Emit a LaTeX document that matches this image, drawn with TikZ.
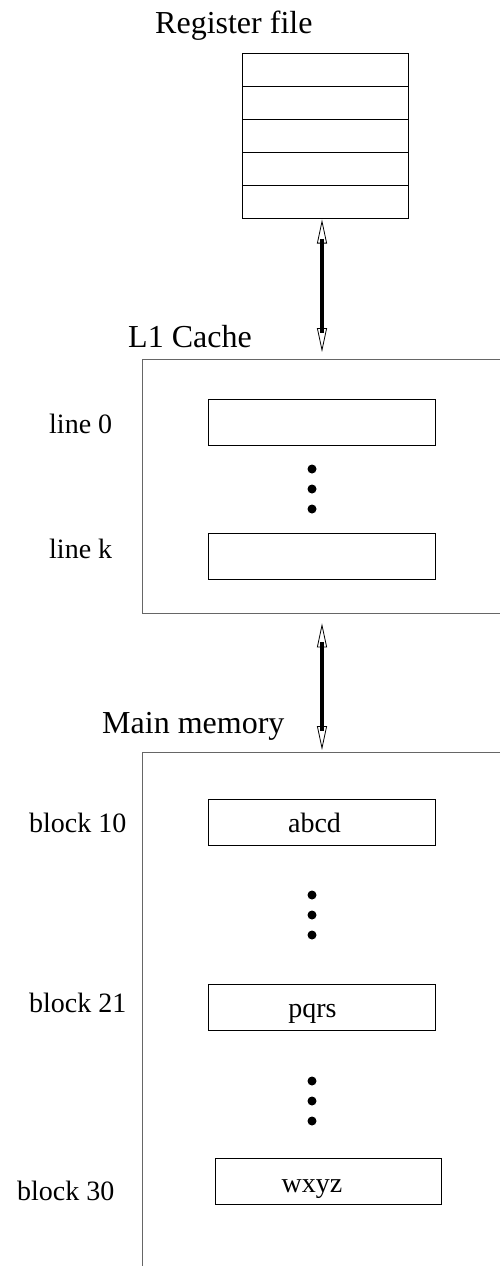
\documentclass[tikz,border=0pt]{standalone}
\usepackage{fontspec}
\setmainfont{Liberation Serif}
\usetikzlibrary{arrows.meta}
\usetikzlibrary{positioning}

\begin{document}
\begin{tikzpicture}[x=1pt,y=-1pt,
    every node/.style={font=\fontsize{28}{32}\selectfont},
    title/.style={font=\fontsize{32}{36}\selectfont, anchor=base west, inner sep=0},
    lbl/.style={anchor=base west, inner sep=0},
    content/.style={anchor=base, inner sep=0},
    regcell/.style={draw, minimum width=166pt, minimum height=33pt, inner sep=0, line width=1pt},
    slot/.style={draw, minimum width=227pt, minimum height=46pt, inner sep=0, line width=1pt},
    level/.style={draw=black!60, line width=1.3pt, inner sep=0, anchor=north west, minimum width=420pt},
    dot/.style={circle, fill, inner sep=0, minimum size=9pt},
    link/.style={line width=0.8pt, fill=white, {Triangle[open,length=24pt,width=10pt]}-{Triangle[open,length=24pt,width=10pt]}},
    shaft/.style={line width=4.5pt}]
        \clip (0,0) rectangle (500,1266);
        \node[title] (regt) at (155,33) {Register file};
        \foreach \i in {1,...,5}
          \node[regcell] (r\i) at (325,{36.5+33*\i}) {};
        \coordinate (bus) at ([xshift=-3pt]r5.south);
        \node[title] (l1t) at (128,347) {L1 Cache};
        \node[level, minimum height=254pt] (l1) at (142,359) {};
        \node[lbl] (line0lab) at (49,433) {line 0};
        \node[lbl] (linekbl) at (49,558) {line k};
        \node[slot] (line0) at (321.5,422.5) {};
        \node[slot] (linek) at (321.5,556) {};
        \foreach \y in {469,489,509}
          \node[dot] (ldot\y) at (312,\y) {};
        \node[title] (memt) at (102,733) {Main memory};
        \node[level, minimum height=600pt] (mem) at (142,752) {};
        \node[lbl] (b10lab) at (29,832) {block 10};
        \node[lbl] (b21lab) at (29,1012) {block 21};
        \node[lbl] (b30lab) at (17,1200) {block 30};
        \node[slot] (b10) at (321.5,822) {};
        \node[slot] (b21) at (321.5,1007.5) {};
        \node[slot, minimum width=226pt] (b30) at (328,1181) {};
        \node[content] (b10txt) at ([xshift=-7pt,yshift=-10pt]b10.center) {abcd};
        \node[content] (b21txt) at ([xshift=-9pt,yshift=-10pt]b21.center) {pqrs};
        \node[content] (b30txt) at ([xshift=-16pt,yshift=-11pt]b30.center) {wxyz};
        \foreach \y in {895,915,935}
          \node[dot] (mdot\y) at (312,\y) {};
        \foreach \y in {1081,1101,1121}
          \node[dot] (ndot\y) at (312,\y) {};
        \draw[link, shorten <=1pt, shorten >=7pt] (bus) -- (bus |- l1.north);
        \draw[shaft, shorten <=20pt, shorten >=26pt] (bus) -- (bus |- l1.north);
        \draw[link, shorten <=9pt, shorten >=2pt] (bus |- l1.south) -- (bus |- mem.north);
        \draw[shaft, shorten <=28pt, shorten >=21pt] (bus |- l1.south) -- (bus |- mem.north);
      \end{tikzpicture}
\end{document}
